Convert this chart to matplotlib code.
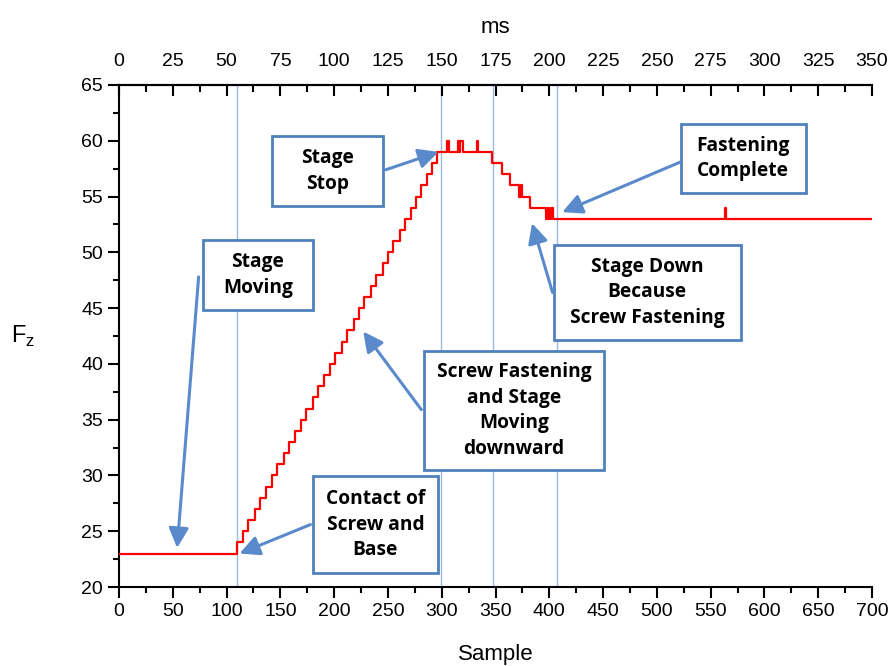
import numpy as np
import matplotlib
matplotlib.use("Agg")
import matplotlib.pyplot as plt
from matplotlib.patches import Rectangle
from matplotlib.ticker import MultipleLocator

# Fz trace: sample where each level starts, and the level
step_samples = [0, 110, 115, 120, 126, 131, 137, 142, 147, 153, 158, 164, 169, 174,
                180, 185, 191, 196, 201, 207, 212, 218, 223, 228, 234, 239, 245,
                250, 255, 261, 266, 271, 276, 281, 286, 291, 296, 305, 307, 315,
                316, 317, 320, 333, 334, 347, 356, 363, 372, 374, 375, 382, 397,
                399, 400, 402, 403, 405, 563, 564]
step_levels = [23, 24, 25, 26, 27, 28, 29, 30, 31, 32, 33, 34, 35, 36,
               37, 38, 39, 40, 41, 42, 43, 44, 45, 46, 47, 48, 49,
               50, 51, 52, 53, 54, 55, 56, 57, 58, 59, 60, 59, 60,
               59, 60, 59, 60, 59, 58, 57, 56, 55, 56, 55, 54, 53,
               54, 53, 54, 53, 53, 54, 53]
last_sample = 700

# event markers (sample)
event_lines = [110, 299, 348, 407]

# annotation boxes: text, (x0, x1, y0, y1) in data units, arrow start, arrow tip
notes = [
    ("Stage\nMoving", (78, 180, 44.8, 51.1), (74, 47.8), (54, 23.5)),
    ("Stage\nStop", (142, 245, 54.15, 60.45), (248, 57.4), (297, 59.0)),
    ("Contact of\nScrew and\nBase", (180, 296.5, 21.25, 29.95), (178, 25.6), (112, 23.0)),
    ("Screw Fastening\nand Stage\nMoving\ndownward", (283.5, 451, 30.5, 41.15), (281, 35.9), (227, 42.9)),
    ("Fastening\nComplete", (522, 638.5, 55.3, 61.5), (522, 58.1), (412, 53.6)),
    ("Stage Down\nBecause\nScrew Fastening", (404, 578, 42.15, 50.65), (403, 46.4), (384, 52.6)),
]

box_blue = "#4F81BD"
arrow_blue = "#5A8ACB"
line_blue = "#9DB9DF"

fig = plt.figure(figsize=(8.93, 6.66), dpi=100)
ax = fig.add_axes([0.1333, 0.1186, 0.8432, 0.7538])

x = step_samples + [last_sample]
y = step_levels + [step_levels[-1]]
ax.step(x, y, where="post", color="red", lw=1.6, zorder=3)

for s in event_lines:
    ax.axvline(s, color=line_blue, lw=1.0, zorder=1)

for text, (x0, x1, y0, y1), start, tip in notes:
    ax.add_patch(Rectangle((x0, y0), x1 - x0, y1 - y0, facecolor="white",
                           edgecolor=box_blue, lw=2, zorder=4))
    ax.text((x0 + x1) / 2, (y0 + y1) / 2, text, ha="center", va="center",
            fontsize=13.8, family="Open Sans", fontweight="bold",
            linespacing=1.38, zorder=5)
    ax.annotate("", xy=tip, xytext=start, zorder=6,
                arrowprops=dict(arrowstyle="-|>,head_length=0.6,head_width=0.3",
                                color=arrow_blue, lw=2.2, mutation_scale=20,
                                shrinkA=0, shrinkB=0))

ax.set_xlim(0, 700)
ax.set_ylim(20, 65)
ax.xaxis.set_major_locator(MultipleLocator(50))
ax.xaxis.set_minor_locator(MultipleLocator(25))
ax.yaxis.set_major_locator(MultipleLocator(5))
ax.yaxis.set_minor_locator(MultipleLocator(2.5))
ax.tick_params(which="both", direction="out", width=1.5, labelsize=14,
               top=False, right=False)
ax.tick_params(which="major", length=8)
ax.tick_params(which="minor", length=4)
for lab in ax.get_xticklabels() + ax.get_yticklabels():
    lab.set_family("Liberation Sans")
ax.spines["right"].set_visible(False)
for sp in ["left", "bottom", "top"]:
    ax.spines[sp].set_linewidth(1.5)

ax.set_xlabel("Sample", fontsize=16, family="Liberation Sans", labelpad=17)
ax.set_ylabel(r"F$_{\mathregular{z}}$", fontsize=17, family="Liberation Sans",
              rotation=0, labelpad=42, va="center")

# top axis in ms
top = ax.twiny()
top.set_xlim(0, 350)
top.xaxis.set_major_locator(MultipleLocator(25))
top.xaxis.set_minor_locator(MultipleLocator(12.5))
top.tick_params(which="both", direction="in", width=1.5, labelsize=14, pad=11)
top.tick_params(which="major", length=8)
top.tick_params(which="minor", length=5)
for lab in top.get_xticklabels():
    lab.set_family("Liberation Sans")
for sp in ["left", "right", "bottom"]:
    top.spines[sp].set_visible(False)
top.spines["top"].set_linewidth(1.5)
top.set_xlabel("ms", fontsize=16, family="Liberation Sans", labelpad=14)

fig.savefig("out.png", dpi=100)
